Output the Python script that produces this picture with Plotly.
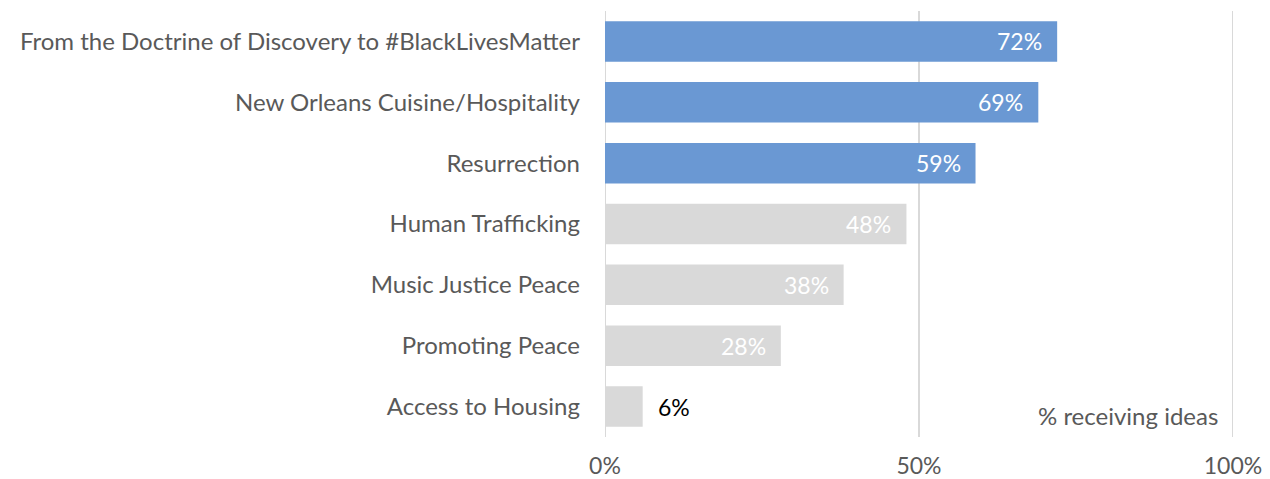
import plotly.graph_objects as go

categories = [
    "From the Doctrine of Discovery to #BlackLivesMatter",
    "New Orleans Cuisine/Hospitality",
    "Resurrection",
    "Human Trafficking",
    "Music Justice Peace",
    "Promoting Peace",
    "Access to Housing",
]
values = [72, 69, 59, 48, 38, 28, 6]
highlight = [True, True, True, False, False, False, False]
x_ticks = [0, 50, 100]
x_tick_labels = ["0%", "50%", "100%"]
axis_note = "% receiving ideas"

BLUE = "#6a98d3"
GRAY = "#d9d9d9"
TEXT = "#595959"
FONT = "Lato"
SIZE = 24

colors = [BLUE if h else GRAY for h in highlight]

fig = go.Figure(
    go.Bar(
        x=values,
        y=categories,
        orientation="h",
        marker=dict(color=colors, line=dict(width=0)),
        width=0.665,
        hoverinfo="skip",
    )
)

# vertical gridlines at each tick (drawn as shapes so the edge lines show too)
for t in x_ticks:
    fig.add_shape(type="line", x0=t, x1=t, y0=0, y1=1, xref="x", yref="paper",
                  line=dict(color=GRAY, width=2), layer="below")

# value labels: white inside the bar end, dark outside for short bars
for cat, v in zip(categories, values):
    if v >= 20:
        fig.add_annotation(x=v, y=cat, text=f"{v}%", showarrow=False,
                           xanchor="right", xshift=-13,
                           font=dict(family=FONT, size=SIZE - 1, color="white"))
    else:
        fig.add_annotation(x=v, y=cat, text=f"{v}%", showarrow=False,
                           xanchor="left", xshift=13,
                           font=dict(family=FONT, size=SIZE - 1, color="black"))

fig.add_annotation(x=0.98, y=0.05, xref="paper", yref="paper",
                   text=axis_note, showarrow=False, xanchor="right", yanchor="middle",
                   font=dict(family=FONT, size=SIZE, color=TEXT))

fig.update_layout(
    width=1270,
    height=479,
    margin=dict(l=605, r=37, t=11, b=42, autoexpand=False),
    paper_bgcolor="white",
    plot_bgcolor="white",
    showlegend=False,
    bargap=0.335,
    font=dict(family=FONT, size=SIZE, color=TEXT),
)

fig.update_xaxes(
    range=[0, 100],
    tickvals=x_ticks,
    ticktext=x_tick_labels,
    showgrid=False,
    zeroline=False,
    showline=False,
    ticks="outside",
    ticklen=8,
    tickcolor="rgba(0,0,0,0)",
    tickfont=dict(family=FONT, size=SIZE - 1, color=TEXT),
    automargin=False,
    fixedrange=True,
)

fig.update_yaxes(
    autorange="reversed",
    showgrid=False,
    zeroline=False,
    showline=False,
    ticklabelstandoff=24,
    tickfont=dict(family=FONT, size=SIZE, color=TEXT),
    automargin=False,
    fixedrange=True,
)

fig.write_html("out.html")
